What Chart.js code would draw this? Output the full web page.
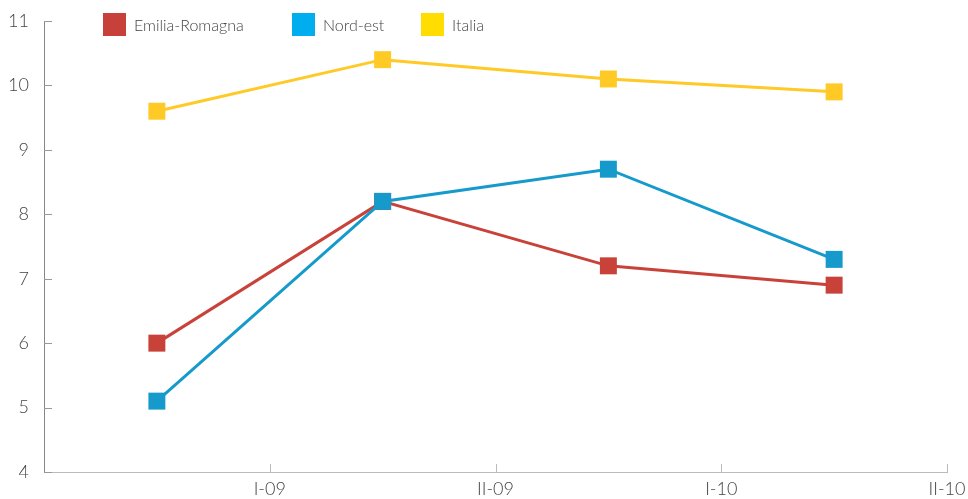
<!DOCTYPE html>
<html>
<head>
<meta charset="utf-8">
<script src="https://cdn.jsdelivr.net/npm/chart.js@4/dist/chart.umd.min.js"></script>
<style>
  html, body { margin: 0; padding: 0; background: #fff; }
  #wrap { position: relative; width: 968px; height: 499px; }
  #legend { position: absolute; left: 0; top: 0; width: 968px; height: 40px; font-family: Lato, "Liberation Sans", sans-serif; font-weight: 300; font-size: 16px; color: #444; }
  .item { position: absolute; top: 13px; height: 23px; line-height: 23px; white-space: nowrap; }
  .sw { display: inline-block; width: 23px; height: 23px; vertical-align: top; margin-right: 8px; }
</style>
</head>
<body>
<div id="wrap">
  <canvas id="c" width="968" height="499"></canvas>
  <div id="legend"></div>
</div>
<script>
const tickLabels = ['I-09', 'II-09', 'I-10', 'II-10'];
const seriesNames = ['Emilia-Romagna', 'Nord-est', 'Italia'];
const emiliaRomagna = [6.0, 8.2, 7.2, 6.9];
const nordEst = [5.1, 8.2, 8.7, 7.3];
const italia = [9.6, 10.4, 10.1, 9.9];
const lineColors = ['#C8423A', '#169ACB', '#FFC926'];
const legendColors = ['#C8403A', '#00AEEF', '#FFDD00'];
const legendX = [103, 292, 421];

// legend (HTML text)
const lg = document.getElementById('legend');
seriesNames.forEach((n, i) => {
  const d = document.createElement('div');
  d.className = 'item';
  d.style.left = legendX[i] + 'px';
  d.innerHTML = '<span class="sw" style="background:' + legendColors[i] + '"></span>' + n;
  lg.appendChild(d);
});

function pts(arr) { return arr.map((v, i) => ({ x: i + 0.5, y: v })); }

const innerTicks = {
  id: 'innerTicks',
  afterDraw(chart) {
    const ctx = chart.ctx, xs = chart.scales.x, ys = chart.scales.y;
    const a = chart.chartArea;
    ctx.save();
    ctx.lineWidth = 1;
    ctx.strokeStyle = '#999';
    for (let v = 4; v <= 11; v++) {
      const y = Math.round(ys.getPixelForValue(v)) + 0.5;
      ctx.beginPath(); ctx.moveTo(a.left, y); ctx.lineTo(a.left + 8, y); ctx.stroke();
    }
    ctx.strokeStyle = '#bbb';
    for (let i = 1; i <= tickLabels.length; i++) {
      const x = Math.round(xs.getPixelForValue(i)) + 0.5;
      ctx.beginPath(); ctx.moveTo(x, a.bottom); ctx.lineTo(x, a.bottom - 8); ctx.stroke();
    }
    ctx.restore();
  }
};

const font = { family: 'Lato, "Liberation Sans", sans-serif', size: 18, weight: 300 };
const data = [emiliaRomagna, nordEst, italia];

new Chart(document.getElementById('c'), {
  type: 'line',
  data: {
    datasets: seriesNames.map((n, i) => ({
      label: n,
      data: pts(data[i]),
      borderColor: lineColors[i],
      backgroundColor: lineColors[i],
      borderWidth: 3,
      pointStyle: 'rect',
      pointRadius: 12,
      pointHoverRadius: 12,
      pointBorderWidth: 0,
      fill: false,
      tension: 0,
      order: i === 1 ? 0 : (i === 0 ? 1 : 2)
    }))
  },
  options: {
    responsive: false,
    animation: false,
    events: [],
    layout: { padding: { top: 21, right: 21, left: 0, bottom: 0 } },
    plugins: { legend: { display: false }, tooltip: { enabled: false } },
    scales: {
      x: {
        type: 'linear',
        min: 0, max: 4,
        afterFit(s) { s.height = 27; s.paddingLeft = 0; s.paddingRight = 0; },
        ticks: {
          stepSize: 1,
          autoSkip: false,
          maxRotation: 0,
          padding: 6,
          color: '#444',
          font: font,
          callback: (v) => (v >= 1 && v <= tickLabels.length && Number.isInteger(v)) ? tickLabels[v - 1] : ''
        },
        grid: { display: true, drawOnChartArea: false, drawTicks: false },
        border: { display: true, color: '#bbb', width: 1 }
      },
      y: {
        min: 4, max: 11,
        afterFit(s) { s.width = 44; s.paddingTop = 0; s.paddingBottom = 0; },
        ticks: { stepSize: 1, padding: 15, color: '#444', font: font },
        grid: { display: true, drawOnChartArea: false, drawTicks: false },
        border: { display: true, color: '#888', width: 1 }
      }
    }
  },
  plugins: [innerTicks]
});
</script>
</body>
</html>
